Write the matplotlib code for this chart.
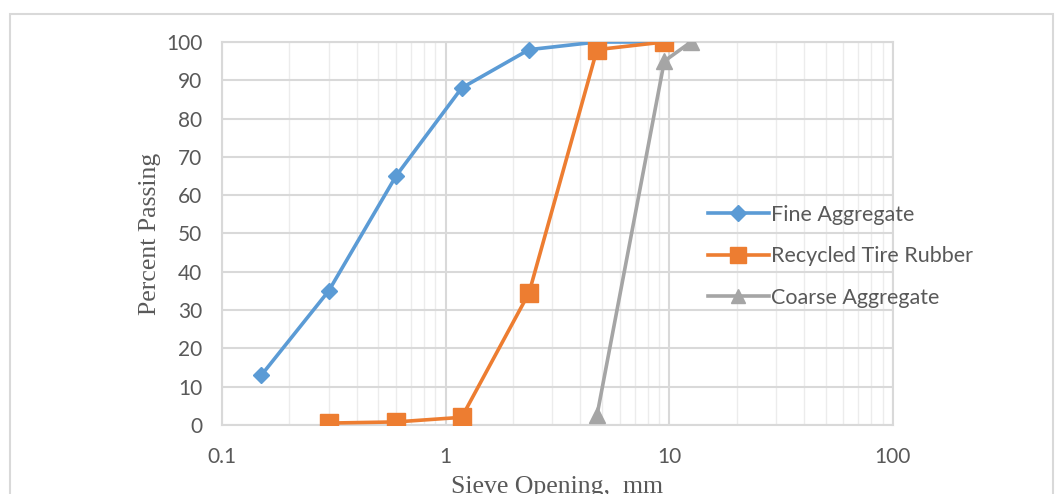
import matplotlib
matplotlib.use('Agg')
import matplotlib.pyplot as plt
from matplotlib.patches import Rectangle
from matplotlib.ticker import LogLocator, FuncFormatter, MultipleLocator

# sieve openings (mm) and percent passing
fine_size = [0.15, 0.3, 0.6, 1.18, 2.36, 4.75, 9.5]
fine_pass = [13, 35, 65, 88, 98, 100, 100]

rubber_size = [0.3, 0.6, 1.18, 2.36, 4.75, 9.5]
rubber_pass = [0.5, 0.8, 2, 34.5, 98, 100]

coarse_size = [4.75, 9.5, 12.5]
coarse_pass = [2.5, 95, 100]

tick_font = 'Lato'
grey_text = '#595959'
grid_col = '#d9d9d9'

fig = plt.figure(figsize=(10.59, 4.94), dpi=100)
ax = fig.add_axes([0.2096, 0.1397, 0.6336, 0.7753])

ax.plot(fine_size, fine_pass, color='#5b9bd5', lw=2.6, marker='D', ms=8.5,
        label='Fine Aggregate', zorder=3)
ax.plot(rubber_size, rubber_pass, color='#ed7d31', lw=2.6, marker='s', ms=13,
        label='Recycled Tire Rubber', zorder=4)
ax.plot(coarse_size, coarse_pass, color='#a5a5a5', lw=2.6, marker='^', ms=11,
        label='Coarse Aggregate', zorder=5)

ax.set_xscale('log')
ax.set_xlim(0.1, 100)
ax.set_ylim(0, 100)
ax.yaxis.set_major_locator(MultipleLocator(10))
ax.xaxis.set_major_locator(LogLocator(base=10))
ax.xaxis.set_minor_locator(LogLocator(base=10, subs=range(2, 10)))
ax.xaxis.set_major_formatter(FuncFormatter(lambda v, p: f'{v:g}'))

ax.grid(True, which='major', axis='both', color=grid_col, lw=1.5)
ax.grid(True, which='minor', axis='x', color='#ececec', lw=1)
ax.set_axisbelow(True)
for s in ax.spines.values():
    s.set_color(grid_col)
    s.set_linewidth(1.5)
ax.tick_params(which='both', length=0, colors=grey_text, labelsize=15)
ax.tick_params(axis='y', pad=14)
ax.tick_params(axis='x', pad=16)
for lab in ax.get_xticklabels() + ax.get_yticklabels():
    lab.set_fontfamily(tick_font)

ax.set_ylabel('Percent Passing', family='Liberation Serif', fontsize=18.5,
              color=grey_text, labelpad=4)
ax.set_xlabel('Sieve Opening,  mm', family='Liberation Serif', fontsize=18.5,
              color=grey_text, labelpad=6)

leg = ax.legend(loc='center left', bbox_to_anchor=(0.696, 0.44), frameon=False,
                prop={'family': tick_font, 'size': 15.5}, labelspacing=1.0,
                handlelength=2.8, handletextpad=0.1, markerscale=0.9)
for t in leg.get_texts():
    t.set_color(grey_text)

fig.add_artist(Rectangle((10 / 1059, -0.1), 1043 / 1059, 1.1 - 14 / 494,
                         transform=fig.transFigure, fill=False,
                         edgecolor=grid_col, lw=1.5))

fig.savefig('out.png', dpi=100)
